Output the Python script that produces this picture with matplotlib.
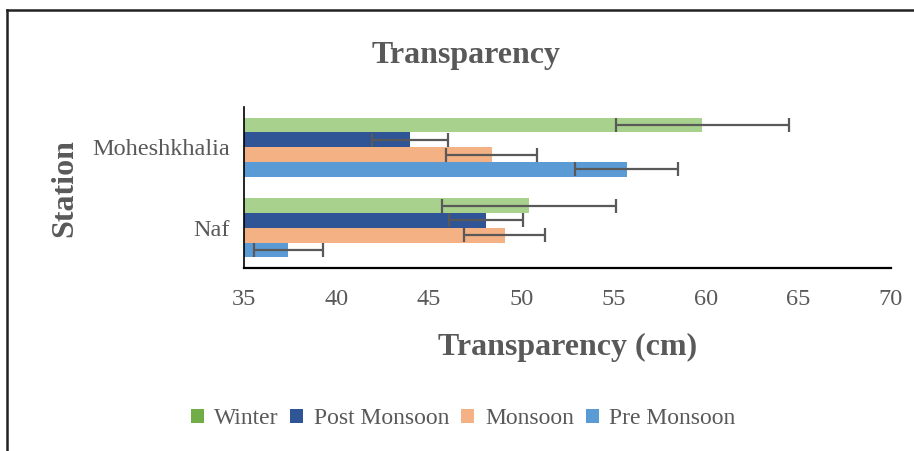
import matplotlib
matplotlib.use('Agg')
import matplotlib.pyplot as plt
from matplotlib.lines import Line2D
from matplotlib.patches import Patch
import numpy as np

plt.rcParams['font.family'] = ['Liberation Serif', 'DejaVu Serif']

# data (Naf at bottom, Moheshkhalia at top)
stations = ['Naf', 'Moheshkhalia']
winter = [50.4, 59.8]
winter_err = [4.7, 4.7]
post_monsoon = [48.1, 44.0]
post_monsoon_err = [2.0, 2.05]
monsoon = [49.1, 48.4]
monsoon_err = [2.2, 2.45]
pre_monsoon = [37.4, 55.7]
pre_monsoon_err = [1.85, 2.8]

series = [
    ('Winter', winter, winter_err, '#A9D18E', '#70AD47'),
    ('Post Monsoon', post_monsoon, post_monsoon_err, '#2F5597', '#2F5597'),
    ('Monsoon', monsoon, monsoon_err, '#F4B183', '#F4B183'),
    ('Pre Monsoon', pre_monsoon, pre_monsoon_err, '#5B9BD5', '#5B9BD5'),
]

grey = '#595959'
fig = plt.figure(figsize=(9.14, 4.51), dpi=100)
ax = fig.add_axes([244/914, 1 - 268/451, (891-244)/914, (268-107)/451])

y = np.arange(len(stations))
h = 0.184
offsets = [1.5, 0.5, -0.5, -1.5]
handles = []
for (name, vals, errs, col, legcol), off in zip(series, offsets):
    ax.barh(y + off*h, vals, height=h, color=col, xerr=errs,
            error_kw=dict(ecolor=grey, elinewidth=1.6, capsize=5, capthick=1.6))
    handles.append(Patch(facecolor=legcol, edgecolor='none', label=name))

ax.set_xlim(35, 70)
ax.set_ylim(-0.5, 1.5)
ax.set_xticks(np.arange(35, 71, 5))
ax.set_yticks(y)
ax.set_yticklabels(stations)
ax.tick_params(axis='both', length=0, labelsize=17.5, labelcolor=grey)
ax.tick_params(axis='x', pad=15)
ax.tick_params(axis='y', pad=10)
for s in ['top', 'right']:
    ax.spines[s].set_visible(False)
ax.spines['bottom'].set_linewidth(1.6)
ax.spines['left'].set_linewidth(1.2)

fig.text(466/914, 1 - 55/451, 'Transparency', ha='center', va='center',
         fontsize=23, fontweight='bold', color=grey)
fig.text(568/914, 1 - 347/451, 'Transparency (cm)', ha='center', va='center',
         fontsize=23, fontweight='bold', color=grey)
fig.text(65/914, 1 - 188/451, 'Station', ha='center', va='center', rotation=90,
         fontsize=23, fontweight='bold', color=grey)

fig.legend(handles=handles, loc='center', bbox_to_anchor=(463/914, 1 - 419/451),
           ncol=4, frameon=False, fontsize=17, labelcolor=grey,
           handlelength=0.55, handleheight=0.55, handletextpad=0.45,
           columnspacing=0.5)

# outer chart border (top and left edges)
fig.add_artist(Line2D([7/914, 1], [1 - 10/451, 1 - 10/451], color='#222222', lw=1.8))
fig.add_artist(Line2D([7/914, 7/914], [0, 1 - 10/451], color='#222222', lw=1.8))

fig.savefig('out.png', dpi=100)
